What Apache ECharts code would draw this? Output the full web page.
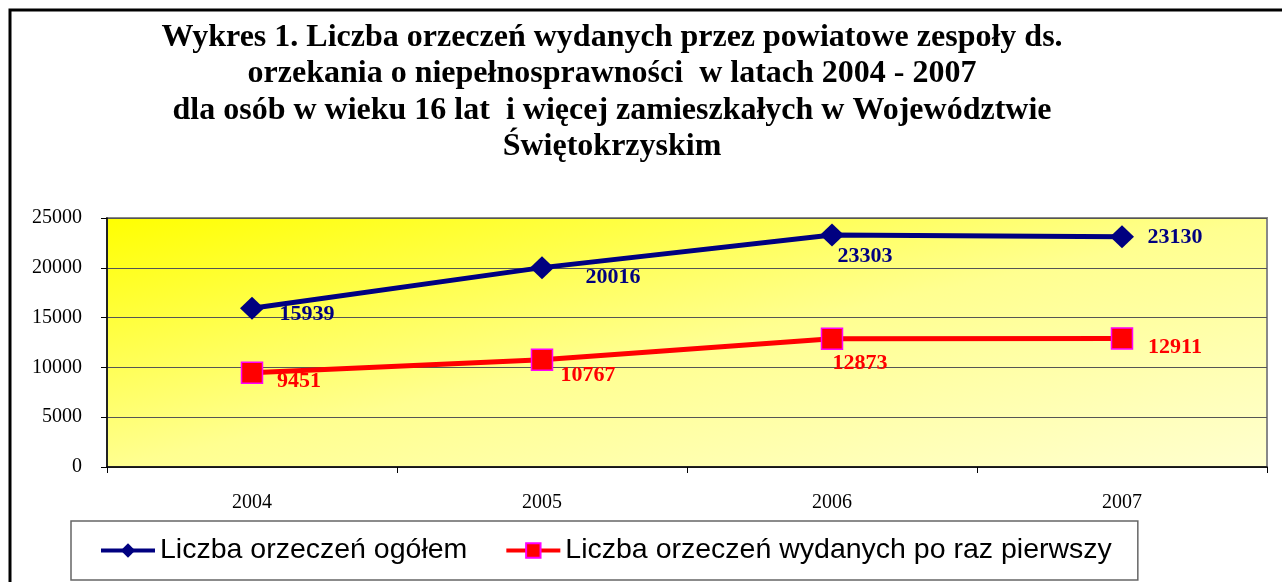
<!DOCTYPE html>
<html>
<head>
<meta charset="utf-8">
<script src="https://cdn.jsdelivr.net/npm/echarts@6/dist/echarts.min.js"></script>
<style>
html, body { margin: 0; padding: 0; background: #fff; }
#chart { width: 1282px; height: 582px; }
</style>
</head>
<body>
<div id="chart"></div>
<script>
var years = ['2004', '2005', '2006', '2007'];
var ogolem = [15939, 20016, 23303, 23130];
var pierwszy = [9451, 10767, 12873, 12911];
var yTicks = [0, 5000, 10000, 15000, 20000, 25000];

var seriesNames = ['Liczba orzeczeń ogółem', 'Liczba orzeczeń wydanych po raz pierwszy'];
var titleText = 'Wykres 1. Liczba orzeczeń wydanych przez powiatowe zespoły ds.\n' +
	'orzekania o niepełnosprawności  w latach 2004 - 2007\n' +
	'dla osób w wieku 16 lat  i więcej zamieszkałych w Województwie\n' +
	'Świętokrzyskim';

// label offsets (style only)
var offsOgolem = [[55, 6], [71, 10], [33, 21], [53, 1]];
var offsPierwszy = [[47, 8], [46, 16], [28, 25], [53, 9]];

function withLabels(values, offs) {
	return values.map(function(v, i) {
		return { value: v, label: { offset: offs[i] } };
	});
}

var myChart = echarts.init(document.getElementById('chart'));

var option = {
	backgroundColor: '#fff',
	animation: false,
	graphic: [{
		type: 'rect',
		shape: { x: 10, y: 10, width: 1300, height: 620 },
		style: { fill: 'none', stroke: '#000', lineWidth: 3 },
		silent: true
	}, {
		// chart title, centred a bit left of the page middle like the original
		type: 'text',
		x: 612,
		y: 19,
		style: {
			text: titleText,
			textAlign: 'center',
			textVerticalAlign: 'top',
			fontFamily: 'Liberation Serif',
			fontWeight: 'bold',
			fontSize: 32,
			lineHeight: 36.5,
			fill: '#000'
		},
		silent: true
	}],
	legend: {
		left: 71,
		top: 521,
		padding: [15, 26, 15, 28],
		itemGap: 37,
		itemWidth: 54,
		itemHeight: 18,
		borderColor: '#666',
		borderWidth: 1.5,
		lineStyle: { width: 4 },
		textStyle: {
			fontFamily: 'Liberation Sans',
			fontSize: 28.5,
			color: '#000'
		},
		data: seriesNames
	},
	grid: {
		left: 107,
		right: 15,
		top: 218,
		bottom: 115,
		show: true,
		borderColor: '#888',
		borderWidth: 2,
		// diagonal fill: bright yellow top-left fading to pale bottom-right
		backgroundColor: new echarts.graphic.LinearGradient(0, 0, 0.088, 1.91, [
			{ offset: 0, color: '#ffff00' },
			{ offset: 0.5, color: '#ffff90' },
			{ offset: 1, color: '#ffffd0' }
		])
	},
	xAxis: {
		type: 'category',
		data: years,
		boundaryGap: true,
		axisLine: { lineStyle: { color: '#000', width: 1.5 } },
		axisTick: { show: true, length: 6, lineStyle: { color: '#000' } },
		axisLabel: {
			margin: 26,
			fontFamily: 'Liberation Serif',
			fontSize: 20,
			color: '#000'
		}
	},
	yAxis: {
		type: 'value',
		min: yTicks[0],
		max: yTicks[yTicks.length - 1],
		interval: 5000,
		axisLine: { show: true, lineStyle: { color: '#000', width: 1.5 } },
		axisTick: { show: true, length: 6, lineStyle: { color: '#000' } },
		splitLine: { lineStyle: { color: '#555', width: 1 } },
		axisLabel: {
			margin: 25,
			fontFamily: 'Liberation Serif',
			fontSize: 20,
			color: '#000',
			formatter: function(v) { return String(v); }
		}
	},
	series: [{
		name: seriesNames[0],
		type: 'line',
		data: withLabels(ogolem, offsOgolem),
		symbol: 'diamond',
		symbolSize: [24, 23],
		lineStyle: { color: '#000080', width: 5 },
		itemStyle: { color: '#000080' },
		label: {
			show: true,
			position: 'inside',
			color: '#000080',
			fontFamily: 'Liberation Serif',
			fontWeight: 'bold',
			fontSize: 22
		},
		z: 3
	}, {
		name: seriesNames[1],
		type: 'line',
		data: withLabels(pierwszy, offsPierwszy),
		symbol: 'rect',
		symbolSize: 21,
		lineStyle: { color: '#ff0000', width: 5 },
		itemStyle: { color: '#ff0000', borderColor: '#ff00ff', borderWidth: 1.5 },
		label: {
			show: true,
			position: 'inside',
			color: '#ff0000',
			fontFamily: 'Liberation Serif',
			fontWeight: 'bold',
			fontSize: 22
		},
		z: 3
	}]
};

myChart.setOption(option);
</script>
</body>
</html>
